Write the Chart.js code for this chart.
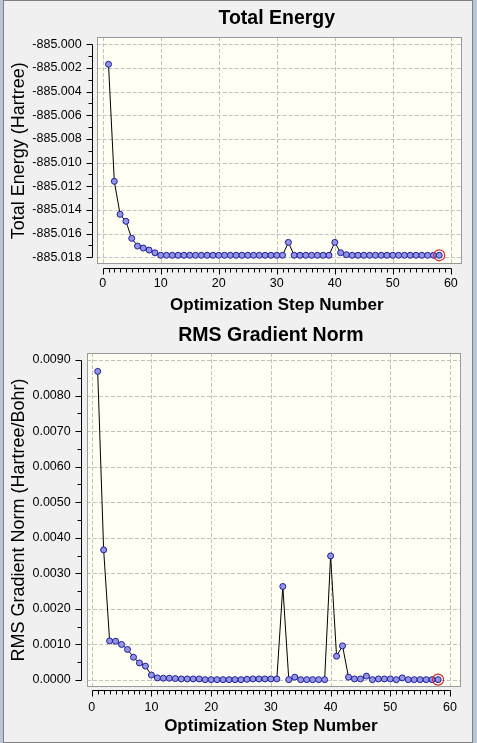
<!DOCTYPE html>
<html>
<head>
<meta charset="utf-8">
<script src="https://cdn.jsdelivr.net/npm/chart.js@4"></script>
<style>
html,body{margin:0;padding:0;width:477px;height:743px;overflow:hidden;background:#b6c5da;}
#frame{position:absolute;left:3px;top:0;width:468px;height:741px;border:1px solid #7f7f7f;background:#f0f0f0;}
#c1{position:absolute;left:0;top:0;}
#c2{position:absolute;left:0;top:318px;}
</style>
</head>
<body>
<div id="frame"></div>
<canvas id="c1" width="477" height="318"></canvas>
<canvas id="c2" width="477" height="425"></canvas>
<script>
// ---- data ----
const steps = [1,2,3,4,5,6,7,8,9,10,11,12,13,14,15,16,17,18,19,20,21,22,23,24,25,26,27,28,29,30,
  31,32,33,34,35,36,37,38,39,40,41,42,43,44,45,46,47,48,49,50,51,52,53,54,55,56,57,58];

const totalEnergy = [
  -885.00169, -885.01158, -885.01437, -885.01496, -885.01640, -885.01705, -885.01722, -885.01739, -885.01762, -885.01783,
  -885.01783, -885.01783, -885.01783, -885.01783, -885.01783, -885.01783, -885.01783, -885.01783, -885.01783, -885.01783,
  -885.01783, -885.01783, -885.01783, -885.01783, -885.01783, -885.01783, -885.01783, -885.01783, -885.01783, -885.01783,
  -885.01783, -885.01674, -885.01783, -885.01783, -885.01783, -885.01783, -885.01783, -885.01783, -885.01783, -885.01674,
  -885.01761, -885.01778, -885.01783, -885.01783, -885.01783, -885.01783, -885.01783, -885.01783, -885.01783, -885.01783,
  -885.01783, -885.01783, -885.01783, -885.01783, -885.01783, -885.01783, -885.01783, -885.01783
];

const rmsGradient = [
  0.00868, 0.00366, 0.00110, 0.00109, 0.00100, 0.00086, 0.00064, 0.00048, 0.00039, 0.00014,
  0.00006, 0.00005, 0.00005, 0.00004, 0.00003, 0.00003, 0.00003, 0.00003, 0.00001, 0.00001,
  0.00001, 0.00001, 0.00001, 0.00001, 0.00001, 0.00002, 0.00003, 0.00003, 0.00003, 0.00003,
  0.00003, 0.00263, 0.00001, 0.00008, 0.00001, 0.00001, 0.00001, 0.00001, 0.00001, 0.00349,
  0.00067, 0.00096, 0.00008, 0.00003, 0.00003, 0.00011, 0.00001, 0.00003, 0.00003, 0.00003,
  0.00001, 0.00006, 0.00001, 0.00001, 0.00001, 0.00001, 0.00001, 0.00001
];

const stepTickLabels = ['0','10','20','30','40','50','60'];
const energyTickLabels = ['-885.018','-885.016','-885.014','-885.012','-885.010','-885.008','-885.006','-885.004','-885.002','-885.000'];
const gradientTickLabels = ['0.0000','0.0010','0.0020','0.0030','0.0040','0.0050','0.0060','0.0070','0.0080','0.0090'];

// ---- drawing ----
const FONT = "'Liberation Sans', Arial, sans-serif";

const gvAxes = {
  id: 'gvAxes',
  beforeDraw(chart, args, o) {
    const {ctx, chartArea: a, scales: {x, y}} = chart;
    const L = a.left - o.pad[0], T = a.top - o.pad[1], R = a.right + o.pad[2], B = a.bottom + o.pad[3];
    ctx.save();
    // plot box
    ctx.fillStyle = '#fffff4';
    ctx.fillRect(L, T, R - L, B - T);
    // dashed grid
    ctx.strokeStyle = '#c2c2c2';
    ctx.lineWidth = 1;
    ctx.setLineDash([4, 2]);
    ctx.beginPath();
    o.xMajor.forEach(v => {
      const px = Math.round(x.getPixelForValue(v)) + 0.5;
      ctx.moveTo(px, T); ctx.lineTo(px, B);
    });
    o.yMajor.forEach(v => {
      const py = Math.round(y.getPixelForValue(v)) + 0.5;
      ctx.moveTo(L, py); ctx.lineTo(R, py);
    });
    ctx.stroke();
    ctx.setLineDash([]);
    // box border
    ctx.strokeStyle = '#9a9a9a';
    ctx.strokeRect(Math.round(L) + 0.5, Math.round(T) + 0.5, Math.round(R - L), Math.round(B - T));
    // rulers
    ctx.strokeStyle = '#000';
    ctx.beginPath();
    // y ruler
    const yl = Math.round(L - o.gapY) + 0.5;
    const yTop = Math.round(y.getPixelForValue(o.yMajor[o.yMajor.length - 1])) + 0.5;
    const yBot = Math.round(y.getPixelForValue(o.yMajor[0])) + 0.5;
    ctx.moveTo(yl, yTop); ctx.lineTo(yl, yBot);
    for (let i = 0; i < o.yMajor.length; i++) {
      const py = Math.round(y.getPixelForValue(o.yMajor[i])) + 0.5;
      ctx.moveTo(yl, py); ctx.lineTo(yl - o.major, py);
      if (i < o.yMajor.length - 1) {
        const mid = (o.yMajor[i] + o.yMajor[i + 1]) / 2;
        const pm = Math.round(y.getPixelForValue(mid)) + 0.5;
        ctx.moveTo(yl, pm); ctx.lineTo(yl - o.minor, pm);
      }
    }
    // x ruler
    const xl = Math.round(B + o.gapX) + 0.5;
    const x0 = Math.round(x.getPixelForValue(o.xMajor[0])) + 0.5;
    const x1 = Math.round(x.getPixelForValue(o.xMajor[o.xMajor.length - 1])) + 0.5;
    ctx.moveTo(x0, xl); ctx.lineTo(x1, xl);
    for (let i = 0; i < o.xMajor.length; i++) {
      const px = Math.round(x.getPixelForValue(o.xMajor[i])) + 0.5;
      ctx.moveTo(px, xl); ctx.lineTo(px, xl + o.major);
      if (i < o.xMajor.length - 1) {
        const span = o.xMajor[i + 1] - o.xMajor[i];
        for (let k = 1; k < o.xMinorCount; k++) {
          const pm = Math.round(x.getPixelForValue(o.xMajor[i] + span * k / o.xMinorCount)) + 0.5;
          ctx.moveTo(pm, xl); ctx.lineTo(pm, xl + o.minor);
        }
      }
    }
    ctx.stroke();
    ctx.restore();
  }
};

function makeChart(canvas, c) {
  const xVals = stepTickLabels.map(Number);
  const yVals = c.yLabels.map(Number);
  const last = steps.length - 1;
  return new Chart(canvas, {
    type: 'line',
    data: {
      datasets: [
        {
          data: steps.map((s, i) => ({x: s, y: c.values[i]})),
          borderColor: '#000000', borderWidth: 1, tension: 0,
          pointRadius: 3, pointBackgroundColor: '#9494e6', pointBorderColor: '#1e1e98', pointBorderWidth: 1,
          clip: false, order: 1
        },
        {
          data: [{x: steps[last], y: c.values[last]}],
          showLine: false,
          pointRadius: 5.5, pointBackgroundColor: 'rgba(0,0,0,0)', pointBorderColor: '#d42a2a', pointBorderWidth: 1.2,
          clip: false, order: 0
        }
      ]
    },
    plugins: [gvAxes],
    options: {
      responsive: false, animation: false, events: [],
      layout: {padding: {left: 0, top: 0, right: c.padRight, bottom: 0}},
      plugins: {
        legend: {display: false},
        tooltip: {enabled: false},
        title: {
          display: true, text: c.title, fullSize: false, color: '#000',
          font: {family: FONT, size: 19.5, weight: 'bold', lineHeight: 1.2},
          padding: {top: c.titlePad[0], bottom: c.titlePad[1]}
        },
        gvAxes: {
          pad: c.boxPad, gapY: c.gapY, gapX: c.gapX, major: 6, minor: 4,
          xMajor: xVals, yMajor: yVals, xMinorCount: 10
        }
      },
      scales: {
        x: {
          type: 'linear', min: xVals[0], max: xVals[xVals.length - 1],
          afterBuildTicks: s => { s.ticks = xVals.map(v => ({value: v})); },
          afterFit: s => { s.height = c.xHeight; },
          grid: {display: false, drawTicks: false}, border: {display: false},
          ticks: {padding: c.xTickPad, color: '#000', font: {family: FONT, size: 12.5, lineHeight: 1.2},
                  maxRotation: 0, autoSkip: false, callback: (v, i) => stepTickLabels[i]},
          title: {display: true, text: 'Optimization Step Number', color: '#000',
                  font: {family: FONT, size: 17, weight: 'bold', lineHeight: 1.2},
                  padding: {top: 0, bottom: c.xTitlePad}}
        },
        y: {
          type: 'linear', min: yVals[0], max: yVals[yVals.length - 1],
          afterBuildTicks: s => { s.ticks = yVals.map(v => ({value: v})); },
          afterFit: s => { s.width = c.yWidth; },
          grid: {display: false, drawTicks: false}, border: {display: false},
          ticks: {padding: 21, color: '#000', font: {family: FONT, size: 12.5, lineHeight: 1.2},
                  autoSkip: false, callback: (v, i) => c.yLabels[i]},
          title: {display: true, text: c.yTitle, color: '#000',
                  font: {family: FONT, size: 18, lineHeight: 1.2},
                  padding: {top: 8.2, bottom: 0}}
        }
      }
    }
  });
}

makeChart(document.getElementById('c1'), {
  title: 'Total Energy', yTitle: 'Total Energy (Hartree)',
  values: totalEnergy, yLabels: energyTickLabels,
  padRight: 19, yWidth: 102.7, xHeight: 60.7, xTickPad: 19.2, xTitlePad: 2.8,
  titlePad: [7.3, 13.6], boxPad: [6, 7.3, 10, 6], gapY: 4.5, gapX: 5
});

makeChart(document.getElementById('c2'), {
  title: 'RMS Gradient Norm', yTitle: 'RMS Gradient Norm (Hartree/Bohr)',
  values: rmsGradient, yLabels: gradientTickLabels,
  padRight: 19.3, yWidth: 91.7, xHeight: 63, xTickPad: 20, xTitlePad: 6.3,
  titlePad: [5.8, 12.8], boxPad: [4.7, 7, 10.3, 6], gapY: 6, gapX: 4
});
</script>
</body>
</html>
